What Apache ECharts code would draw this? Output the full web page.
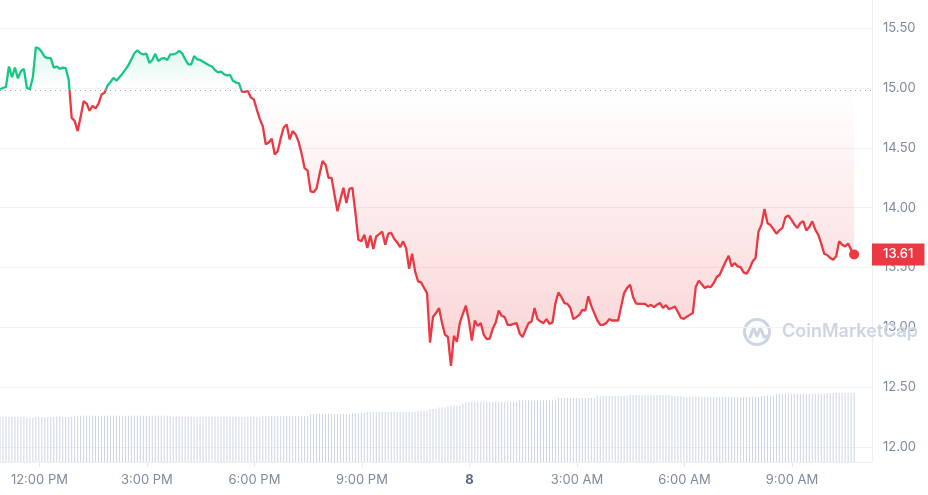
<!DOCTYPE html>
<html>
<head>
<meta charset="utf-8">
<script src="https://cdn.jsdelivr.net/npm/echarts@6/dist/echarts.min.js"></script>
<style>
  html, body { margin: 0; padding: 0; background: #fff; }
  #chart { width: 928px; height: 495px; }
</style>
</head>
<body>
<div id="chart"></div>
<script>
// 5-minute samples, minutes counted from midnight of the first day (10:54 AM)
const startMinute = 654;
const stepMinutes = 5;
const openPrice = 14.985;

const priceValues = [
  14.99, 15.00, 15.01, 15.18, 15.09, 15.17, 15.08, 15.14, 15.16, 15.00,
  14.99, 15.09, 15.34, 15.33, 15.30, 15.26, 15.25, 15.25, 15.17, 15.18,
  15.16, 15.17, 15.165, 15.07, 14.75, 14.725, 14.64, 14.76, 14.89, 14.87,
  14.81, 14.85, 14.83, 14.87, 14.945, 14.96, 15.02, 15.05, 15.085, 15.06,
  15.09, 15.12, 15.155, 15.19, 15.24, 15.29, 15.315, 15.29, 15.28, 15.287,
  15.21, 15.234, 15.285, 15.225, 15.245, 15.25, 15.234, 15.28, 15.28, 15.29,
  15.31, 15.29, 15.24, 15.20, 15.195, 15.267, 15.24, 15.234, 15.22, 15.205,
  15.19, 15.18, 15.15, 15.13, 15.137, 15.115, 15.105, 15.11, 15.06, 15.045,
  15.04, 14.97, 14.968, 14.975, 14.92, 14.905, 14.82, 14.74, 14.68, 14.53,
  14.545, 14.576, 14.444, 14.472, 14.58, 14.67, 14.695, 14.57, 14.64, 14.612,
  14.55, 14.45, 14.33, 14.31, 14.137, 14.13, 14.16, 14.28, 14.39, 14.36,
  14.25, 14.25, 14.11, 13.97, 14.07, 14.166, 14.04, 14.157, 14.166, 13.96,
  13.733, 13.72, 13.775, 13.664, 13.767, 13.655, 13.761, 13.78, 13.80, 13.69,
  13.783, 13.789, 13.74, 13.71, 13.67, 13.719, 13.66, 13.49, 13.616, 13.468,
  13.384, 13.376, 13.33, 13.287, 12.874, 13.09, 13.12, 13.162, 13.04, 12.94,
  12.92, 12.679, 12.93, 12.88, 13.041, 13.114, 13.181, 13.06, 12.89, 13.058,
  13.013, 13.036, 12.938, 12.902, 12.907, 12.99, 13.041, 13.141, 13.097, 13.086,
  13.022, 13.022, 13.03, 13.036, 12.95, 12.919, 12.98, 13.036, 13.05, 13.162,
  13.069, 13.049, 13.036, 13.069, 13.03, 13.041, 13.203, 13.292, 13.253, 13.203,
  13.197, 13.162, 13.069, 13.086, 13.105, 13.147, 13.141, 13.26, 13.18, 13.12,
  13.06, 13.022, 13.022, 13.036, 13.069, 13.058, 13.058, 13.058, 13.175, 13.287,
  13.33, 13.357, 13.253, 13.2, 13.197, 13.197, 13.197, 13.175, 13.189, 13.17,
  13.19, 13.205, 13.162, 13.186, 13.153, 13.162, 13.175, 13.13, 13.08, 13.072,
  13.09, 13.105, 13.12, 13.34, 13.39, 13.36, 13.33, 13.343, 13.337, 13.371,
  13.421, 13.44, 13.496, 13.551, 13.599, 13.51, 13.538, 13.51, 13.504, 13.46,
  13.448, 13.49, 13.55, 13.58, 13.802, 13.859, 13.99, 13.87, 13.855, 13.82,
  13.783, 13.811, 13.831, 13.92, 13.935, 13.9, 13.86, 13.831, 13.872, 13.886,
  13.81, 13.839, 13.886, 13.817, 13.775, 13.70, 13.615, 13.605, 13.58, 13.566,
  13.594, 13.72, 13.69, 13.677, 13.70, 13.65, 13.61
];

// volume, same 5-minute slots
const volumeValues = [
  4.5, 4.5, 4.5, 4.5, 4.5, 4.5, 4.5, 4.5, 4.5, 4.4,
  4.4, 4.4, 4.5, 4.5, 4.5, 4.5, 4.5, 4.5, 4.5, 4.5,
  4.5, 4.5, 4.5, 4.5, 4.5, 4.63, 4.63, 4.63, 4.63, 4.63,
  4.63, 4.63, 4.63, 4.63, 4.63, 4.63, 4.63, 4.63, 4.63, 4.63,
  4.63, 4.63, 4.63, 4.63, 4.63, 4.63, 4.63, 4.63, 4.63, 4.63,
  4.63, 4.63, 4.63, 4.63, 4.63, 4.63, 4.63, 4.63, 4.53, 4.53,
  4.53, 4.53, 4.53, 4.53, 4.53, 4.53, 4.53, 4.53, 4.53, 4.53,
  4.53, 4.53, 4.53, 4.53, 4.53, 4.53, 4.53, 4.53, 4.53, 4.53,
  4.53, 4.53, 4.53, 4.53, 4.53, 4.53, 4.53, 4.53, 4.6, 4.6,
  4.6, 4.6, 4.6, 4.6, 4.6, 4.6, 4.6, 4.6, 4.6, 4.6,
  4.6, 4.57, 4.57, 4.57, 4.8, 4.8, 4.8, 4.8, 4.8, 4.8,
  4.8, 4.8, 4.8, 4.8, 4.8, 4.8, 4.8, 4.8, 4.9, 4.9,
  4.9, 4.9, 4.9, 5.0, 5.0, 5.0, 5.0, 5.0, 5.0, 5.0,
  5.0, 5.0, 5.0, 5.0, 5.0, 5.0, 5.0, 5.0, 5.0, 5.0,
  5.13, 5.13, 5.13, 5.13, 5.3, 5.3, 5.3, 5.45, 5.45, 5.45,
  5.6, 5.6, 5.6, 5.6, 5.6, 5.8, 5.95, 5.95, 6.03, 6.03,
  6.03, 6.03, 6.03, 6.03, 6.03, 6.03, 6.03, 6.03, 6.03, 6.03,
  6.03, 6.03, 6.03, 6.03, 6.18, 6.18, 6.18, 6.18, 6.18, 6.18,
  6.18, 6.18, 6.18, 6.18, 6.18, 6.18, 6.18, 6.4, 6.4, 6.4,
  6.4, 6.4, 6.4, 6.4, 6.4, 6.4, 6.4, 6.4, 6.4, 6.4,
  6.6, 6.6, 6.6, 6.6, 6.6, 6.6, 6.6, 6.6, 6.6, 6.6,
  6.6, 6.7, 6.7, 6.7, 6.7, 6.7, 6.7, 6.7, 6.7, 6.7,
  6.7, 6.7, 6.7, 6.7, 6.7, 6.6, 6.6, 6.6, 6.6, 6.5,
  6.5, 6.5, 6.5, 6.5, 6.5, 6.5, 6.5, 6.5, 6.5, 6.5,
  6.5, 6.5, 6.5, 6.5, 6.5, 6.5, 6.5, 6.5, 6.5, 6.5,
  6.5, 6.5, 6.5, 6.5, 6.5, 6.63, 6.63, 6.63, 6.63, 6.63,
  6.83, 6.83, 6.83, 6.83, 6.83, 6.83, 6.83, 6.83, 6.83, 6.83,
  6.83, 6.83, 6.83, 6.83, 6.83, 6.83, 6.83, 6.9, 6.9, 6.9,
  6.9, 6.9, 6.9, 6.9, 6.9, 6.9, 6.9
];

// x tick positions (minutes) and their labels
const xTickValues = [720, 900, 1080, 1260, 1440, 1620, 1800, 1980];
const xTickLabels = ['12:00 PM', '3:00 PM', '6:00 PM', '9:00 PM', '8', '3:00 AM', '6:00 AM', '9:00 AM'];

const green = '#16c784';
const red = '#ea3943';

const priceData = priceValues.map((v, i) => [startMinute + i * stepMinutes, v]);
const volumeData = volumeValues.map((v, i) => [startMinute + i * stepMinutes, v]);
const last = priceData[priceData.length - 1];

const chart = echarts.init(document.getElementById('chart'));

chart.setOption({
  animation: false,
  textStyle: { fontFamily: 'Inter' },
  grid: { left: 0, right: 56, top: 0, bottom: 33 },
  xAxis: {
    type: 'value',
    min: 654,
    max: 2114,
    axisLine: { show: true, lineStyle: { color: '#eef0f3' } },
    axisTick: { show: true, length: 5, customValues: xTickValues, lineStyle: { color: '#e6e9ee' } },
    splitLine: { show: false },
    axisLabel: {
      customValues: xTickValues,
      margin: 12,
      color: '#808a9d',
      fontSize: 13,
      formatter: val => {
        const s = xTickLabels[xTickValues.indexOf(val)];
        return s === '8' ? '{b|8}' : s;
      },
      rich: { b: { fontWeight: 'bold', color: '#58667e', fontSize: 13 } }
    }
  },
  yAxis: [{
    type: 'value',
    position: 'right',
    min: 11.876,
    max: 15.735,
    splitNumber: 8,
    minInterval: 0.5,
    maxInterval: 0.5,
    axisLine: { show: true, lineStyle: { color: '#eef0f3' } },
    axisTick: { show: false },
    splitLine: { show: true, showMinLine: false, showMaxLine: false, lineStyle: { color: '#f0f2f5' } },
    axisLabel: {
      margin: 11,
      color: '#808a9d',
      fontSize: 13,
      showMinLabel: false,
      showMaxLabel: false,
      formatter: v => v.toFixed(2)
    }
  }, {
    type: 'value',
    show: false,
    min: 0,
    max: 46.2
  }],
  visualMap: {
    show: false,
    seriesIndex: 1,
    dimension: 1,
    pieces: [
      { lte: openPrice, color: red },
      { gt: openPrice, lte: 100, color: green }
    ],
    outOfRange: { color: green }
  },
  graphic: [{
    type: 'group',
    x: 742,
    y: 317,
    z: 1,
    silent: true,
    children: [
      { type: 'circle', shape: { cx: 15, cy: 15, r: 12.5 }, style: { fill: 'none', stroke: '#cdd5e3', lineWidth: 3 } },
      { type: 'polyline', shape: { points: [[8, 20], [11.5, 11], [15, 19], [18.5, 11], [22, 20], [26, 19]] },
        style: { fill: 'none', stroke: '#cdd5e3', lineWidth: 3, lineCap: 'round', lineJoin: 'round' } }
    ]
  }, {
    type: 'text',
    x: 782,
    y: 332,
    z: 1,
    silent: true,
    style: {
      text: 'CoinMarketCap',
      fill: '#cdd5e3',
      font: '600 18px Inter',
      verticalAlign: 'middle'
    }
  }],
  series: [{
    name: 'Volume',
    type: 'bar',
    yAxisIndex: 1,
    data: volumeData,
    barWidth: 1,
    itemStyle: { color: '#cdd5e4' },
    silent: true
  }, {
    name: 'Price',
    type: 'line',
    data: priceData,
    showSymbol: false,
    smooth: false,
    lineStyle: { width: 2.3 },
    areaStyle: {
      origin: openPrice,
      color: new echarts.graphic.LinearGradient(0, 0, 0, 462, [
        { offset: 0, color: 'rgba(22,199,132,0.22)' },
        { offset: 0.104, color: 'rgba(22,199,132,0.2)' },
        { offset: 0.194, color: 'rgba(22,199,132,0)' },
        { offset: 0.195, color: 'rgba(234,57,67,0)' },
        { offset: 0.792, color: 'rgba(234,57,67,0.32)' },
        { offset: 1, color: 'rgba(234,57,67,0.32)' }
      ], true)
    },
    markLine: {
      silent: true,
      symbol: ['none', 'none'],
      data: [
        { yAxis: openPrice, lineStyle: { type: [1, 4], color: '#a0a6b0', width: 1 }, label: { show: false } },
        {
          yAxis: last[1],
          lineStyle: { color: 'rgba(0,0,0,0)', width: 1, opacity: 1 },
          label: {
            show: true,
            opacity: 1,
            position: 'end',
            distance: 0,
            formatter: last[1].toFixed(2),
            backgroundColor: red,
            color: '#fff',
            fontSize: 13,
            fontWeight: 500,
            padding: [5, 11, 4, 11]
          }
        }
      ]
    },
    markPoint: {
      silent: true,
      symbol: 'circle',
      symbolSize: 10,
      itemStyle: { color: red },
      label: { show: false },
      data: [{ coord: last }]
    }
  }]
});
</script>
</body>
</html>
